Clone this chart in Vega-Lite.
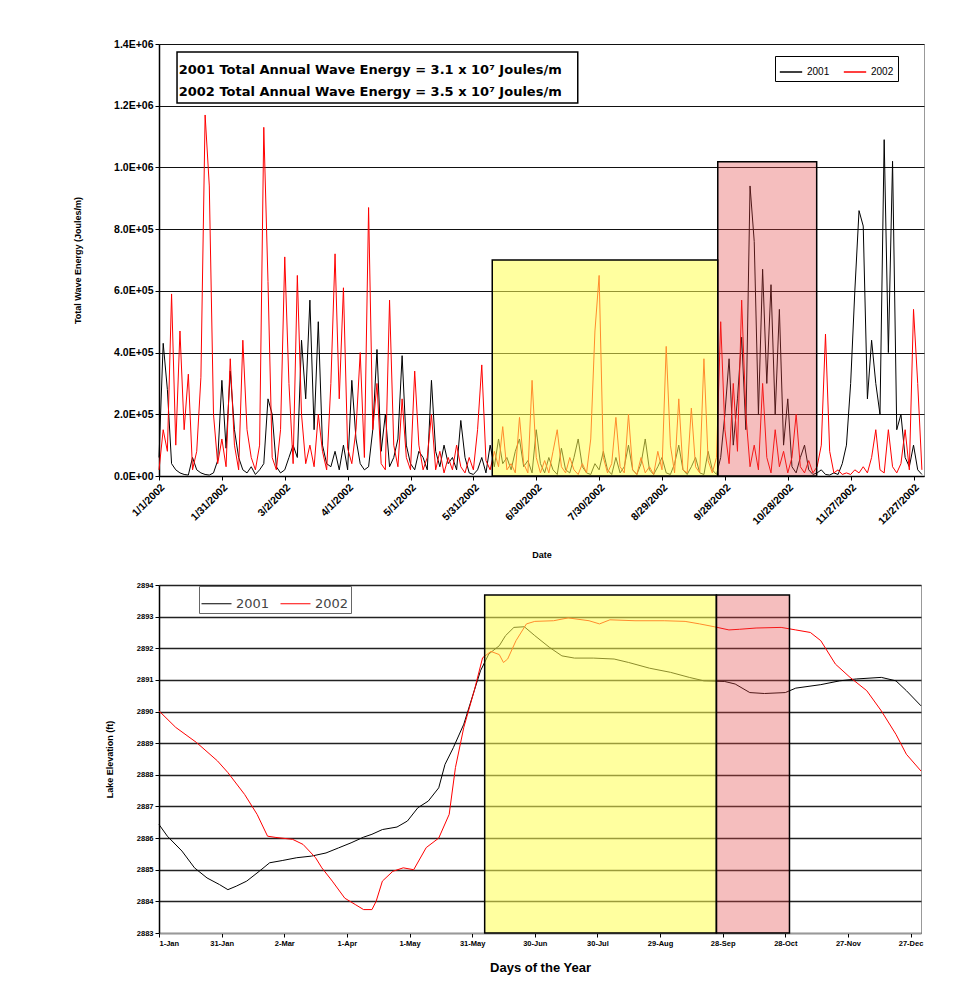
{
  "$schema": "https://vega.github.io/schema/vega-lite/v6.json",
  "background": "white",
  "padding": {"left": 73, "top": 38, "right": 10, "bottom": 0},
  "spacing": 19,
  "resolve": {"scale": {"color": "independent", "fill": "independent", "fillOpacity": "independent"}, "legend": {"color": "independent"}},
  "config": {
    "font": "Liberation Sans",
    "view": {"stroke": "#999999", "strokeWidth": 1},
    "axis": {"labelFont": "Liberation Sans", "titleFont": "Liberation Sans", "labelFontWeight": "bold", "titleFontWeight": "bold", "labelColor": "#000", "titleColor": "#000", "tickColor": "#000", "domainColor": "#000", "tickSize": 4, "labelOverlap": false},
    "legend": {"labelFont": "Liberation Sans"}
  },
  "datasets": {
    "wave": [
      {"t":0,"2001":60000,"2002":20000},{"t":2,"2001":430000,"2002":150000},{"t":4,"2001":280000,"2002":80000},{"t":6,"2001":40000,"2002":590000},
      {"t":8,"2001":20000,"2002":100000},{"t":10,"2001":10000,"2002":470000},{"t":12,"2001":5000,"2002":150000},{"t":14,"2001":3000,"2002":330000},
      {"t":16,"2001":60000,"2002":20000},{"t":18,"2001":20000,"2002":80000},{"t":20,"2001":10000,"2002":320000},{"t":22,"2001":5000,"2002":1170000},
      {"t":24,"2001":3000,"2002":940000},{"t":26,"2001":10000,"2002":200000},{"t":28,"2001":50000,"2002":40000},{"t":30,"2001":310000,"2002":120000},
      {"t":32,"2001":90000,"2002":30000},{"t":34,"2001":340000,"2002":380000},{"t":36,"2001":150000,"2002":100000},{"t":38,"2001":60000,"2002":20000},
      {"t":40,"2001":20000,"2002":440000},{"t":42,"2001":10000,"2002":150000},{"t":44,"2001":30000,"2002":60000},{"t":46,"2001":5000,"2002":20000},
      {"t":48,"2001":20000,"2002":100000},{"t":50,"2001":40000,"2002":1130000},{"t":52,"2001":250000,"2002":630000},{"t":54,"2001":200000,"2002":60000},
      {"t":56,"2001":30000,"2002":20000},{"t":58,"2001":10000,"2002":150000},{"t":60,"2001":20000,"2002":710000},{"t":62,"2001":60000,"2002":300000},
      {"t":64,"2001":100000,"2002":40000},{"t":66,"2001":60000,"2002":650000},{"t":68,"2001":440000,"2002":200000},{"t":70,"2001":250000,"2002":40000},
      {"t":72,"2001":570000,"2002":100000},{"t":74,"2001":150000,"2002":30000},{"t":76,"2001":500000,"2002":200000},{"t":78,"2001":100000,"2002":80000},
      {"t":80,"2001":40000,"2002":20000},{"t":82,"2001":30000,"2002":300000},{"t":84,"2001":80000,"2002":720000},{"t":86,"2001":20000,"2002":250000},
      {"t":88,"2001":100000,"2002":610000},{"t":90,"2001":20000,"2002":90000},{"t":92,"2001":310000,"2002":40000},{"t":94,"2001":120000,"2002":150000},
      {"t":96,"2001":40000,"2002":400000},{"t":98,"2001":20000,"2002":60000},{"t":100,"2001":30000,"2002":870000},{"t":102,"2001":150000,"2002":150000},
      {"t":104,"2001":410000,"2002":300000},{"t":106,"2001":80000,"2002":40000},{"t":108,"2001":200000,"2002":20000},{"t":110,"2001":30000,"2002":570000},
      {"t":112,"2001":60000,"2002":100000},{"t":114,"2001":120000,"2002":30000},{"t":116,"2001":390000,"2002":250000},{"t":118,"2001":100000,"2002":60000},
      {"t":120,"2001":40000,"2002":20000},{"t":122,"2001":20000,"2002":340000},{"t":124,"2001":80000,"2002":100000},{"t":126,"2001":60000,"2002":20000},
      {"t":128,"2001":20000,"2002":60000},{"t":130,"2001":310000,"2002":200000},{"t":132,"2001":80000,"2002":20000},{"t":134,"2001":30000,"2002":80000},
      {"t":136,"2001":100000,"2002":10000},{"t":138,"2001":40000,"2002":60000},{"t":140,"2001":60000,"2002":20000},{"t":142,"2001":20000,"2002":100000},
      {"t":144,"2001":180000,"2002":30000},{"t":146,"2001":60000,"2002":10000},{"t":148,"2001":10000,"2002":60000},{"t":150,"2001":5000,"2002":20000},
      {"t":152,"2001":20000,"2002":150000},{"t":154,"2001":60000,"2002":360000},{"t":156,"2001":10000,"2002":50000},{"t":158,"2001":100000,"2002":20000},
      {"t":160,"2001":30000,"2002":80000},{"t":162,"2001":120000,"2002":30000},{"t":164,"2001":40000,"2002":160000},{"t":166,"2001":60000,"2002":20000},
      {"t":168,"2001":20000,"2002":40000},{"t":170,"2001":80000,"2002":10000},{"t":172,"2001":120000,"2002":190000},{"t":174,"2001":30000,"2002":40000},
      {"t":176,"2001":50000,"2002":10000},{"t":178,"2001":10000,"2002":310000},{"t":180,"2001":150000,"2002":60000},{"t":182,"2001":40000,"2002":10000},
      {"t":184,"2001":10000,"2002":50000},{"t":186,"2001":60000,"2002":10000},{"t":188,"2001":20000,"2002":80000},{"t":190,"2001":5000,"2002":150000},
      {"t":192,"2001":90000,"2002":30000},{"t":194,"2001":20000,"2002":10000},{"t":196,"2001":10000,"2002":60000},{"t":198,"2001":60000,"2002":20000},
      {"t":200,"2001":120000,"2002":5000},{"t":202,"2001":30000,"2002":40000},{"t":204,"2001":10000,"2002":10000},{"t":206,"2001":5000,"2002":120000},
      {"t":208,"2001":40000,"2002":470000},{"t":210,"2001":20000,"2002":650000},{"t":212,"2001":80000,"2002":60000},{"t":214,"2001":20000,"2002":10000},
      {"t":216,"2001":5000,"2002":40000},{"t":218,"2001":60000,"2002":190000},{"t":220,"2001":10000,"2002":30000},{"t":222,"2001":30000,"2002":10000},
      {"t":224,"2001":100000,"2002":200000},{"t":226,"2001":20000,"2002":20000},{"t":228,"2001":5000,"2002":5000},{"t":230,"2001":40000,"2002":60000},
      {"t":232,"2001":120000,"2002":10000},{"t":234,"2001":20000,"2002":30000},{"t":236,"2001":5000,"2002":5000},{"t":238,"2001":30000,"2002":80000},
      {"t":240,"2001":60000,"2002":20000},{"t":242,"2001":10000,"2002":420000},{"t":244,"2001":5000,"2002":100000},{"t":246,"2001":40000,"2002":10000},
      {"t":248,"2001":100000,"2002":250000},{"t":250,"2001":20000,"2002":20000},{"t":252,"2001":5000,"2002":10000},{"t":254,"2001":30000,"2002":220000},
      {"t":256,"2001":60000,"2002":30000},{"t":258,"2001":10000,"2002":10000},{"t":260,"2001":5000,"2002":380000},{"t":262,"2001":80000,"2002":50000},
      {"t":264,"2001":20000,"2002":10000},{"t":266,"2001":5000,"2002":60000},{"t":268,"2001":60000,"2002":500000},{"t":270,"2001":200000,"2002":150000},
      {"t":272,"2001":380000,"2002":40000},{"t":274,"2001":100000,"2002":300000},{"t":276,"2001":250000,"2002":80000},{"t":278,"2001":450000,"2002":570000},
      {"t":280,"2001":150000,"2002":200000},{"t":282,"2001":940000,"2002":30000},{"t":284,"2001":760000,"2002":100000},{"t":286,"2001":200000,"2002":20000},
      {"t":288,"2001":670000,"2002":300000},{"t":290,"2001":300000,"2002":60000},{"t":292,"2001":620000,"2002":10000},{"t":294,"2001":200000,"2002":150000},
      {"t":296,"2001":540000,"2002":30000},{"t":298,"2001":100000,"2002":80000},{"t":300,"2001":250000,"2002":10000},{"t":302,"2001":30000,"2002":60000},
      {"t":304,"2001":10000,"2002":200000},{"t":306,"2001":60000,"2002":30000},{"t":308,"2001":100000,"2002":10000},{"t":310,"2001":20000,"2002":50000},
      {"t":312,"2001":5000,"2002":10000},{"t":314,"2001":10000,"2002":30000},{"t":316,"2001":20000,"2002":100000},{"t":318,"2001":5000,"2002":460000},
      {"t":320,"2001":3000,"2002":80000},{"t":322,"2001":10000,"2002":10000},{"t":324,"2001":5000,"2002":20000},{"t":326,"2001":40000,"2002":5000},
      {"t":328,"2001":100000,"2002":10000},{"t":330,"2001":300000,"2002":5000},{"t":332,"2001":600000,"2002":20000},{"t":334,"2001":860000,"2002":10000},
      {"t":336,"2001":810000,"2002":30000},{"t":338,"2001":250000,"2002":10000},{"t":340,"2001":440000,"2002":60000},{"t":342,"2001":300000,"2002":150000},
      {"t":344,"2001":200000,"2002":20000},{"t":346,"2001":1090000,"2002":10000},{"t":348,"2001":400000,"2002":150000},{"t":350,"2001":1020000,"2002":30000},
      {"t":352,"2001":150000,"2002":10000},{"t":354,"2001":200000,"2002":40000},{"t":356,"2001":60000,"2002":150000},{"t":358,"2001":30000,"2002":20000},
      {"t":360,"2001":100000,"2002":540000},{"t":362,"2001":20000,"2002":300000},{"t":364,"2001":5000,"2002":20000}
    ],
    "lake": [
      {"t":0,"s":"2001","v":2886.43},{"t":4,"s":"2001","v":2886.06},{"t":11,"s":"2001","v":2885.59},{"t":17,"s":"2001","v":2885.06},
      {"t":23,"s":"2001","v":2884.74},{"t":29,"s":"2001","v":2884.53},{"t":33,"s":"2001","v":2884.37},{"t":37,"s":"2001","v":2884.48},
      {"t":42,"s":"2001","v":2884.64},{"t":48,"s":"2001","v":2884.95},{"t":53,"s":"2001","v":2885.22},{"t":59,"s":"2001","v":2885.29},
      {"t":66,"s":"2001","v":2885.38},{"t":73,"s":"2001","v":2885.43},{"t":80,"s":"2001","v":2885.53},{"t":86,"s":"2001","v":2885.69},
      {"t":92,"s":"2001","v":2885.85},{"t":98,"s":"2001","v":2886.03},{"t":102,"s":"2001","v":2886.12},{"t":107,"s":"2001","v":2886.27},
      {"t":114,"s":"2001","v":2886.35},{"t":119,"s":"2001","v":2886.54},{"t":124,"s":"2001","v":2886.96},{"t":129,"s":"2001","v":2887.17},
      {"t":134,"s":"2001","v":2887.59},{"t":137,"s":"2001","v":2888.33},{"t":141,"s":"2001","v":2888.86},{"t":146,"s":"2001","v":2889.6},
      {"t":151,"s":"2001","v":2890.66},{"t":154,"s":"2001","v":2891.29},{"t":158,"s":"2001","v":2891.82},{"t":163,"s":"2001","v":2892.08},
      {"t":166,"s":"2001","v":2892.4},{"t":170,"s":"2001","v":2892.66},{"t":175,"s":"2001","v":2892.68},{"t":180,"s":"2001","v":2892.4},
      {"t":187,"s":"2001","v":2892.03},{"t":193,"s":"2001","v":2891.76},{"t":199,"s":"2001","v":2891.69},{"t":208,"s":"2001","v":2891.69},
      {"t":218,"s":"2001","v":2891.66},{"t":225,"s":"2001","v":2891.55},{"t":235,"s":"2001","v":2891.37},{"t":245,"s":"2001","v":2891.24},
      {"t":254,"s":"2001","v":2891.08},{"t":261,"s":"2001","v":2890.97},{"t":271,"s":"2001","v":2890.95},{"t":276,"s":"2001","v":2890.87},
      {"t":283,"s":"2001","v":2890.6},{"t":290,"s":"2001","v":2890.57},{"t":300,"s":"2001","v":2890.6},{"t":305,"s":"2001","v":2890.74},
      {"t":317,"s":"2001","v":2890.85},{"t":326,"s":"2001","v":2890.97},{"t":334,"s":"2001","v":2891.03},{"t":346,"s":"2001","v":2891.08},
      {"t":353,"s":"2001","v":2890.97},{"t":358,"s":"2001","v":2890.66},{"t":365,"s":"2001","v":2890.18},
      {"t":0,"s":"2002","v":2890.02},{"t":8,"s":"2002","v":2889.5},{"t":18,"s":"2002","v":2889.02},{"t":28,"s":"2002","v":2888.44},
      {"t":33,"s":"2002","v":2888.07},{"t":41,"s":"2002","v":2887.38},{"t":47,"s":"2002","v":2886.75},{"t":52,"s":"2002","v":2886.06},
      {"t":56,"s":"2002","v":2886.02},{"t":64,"s":"2002","v":2885.96},{"t":69,"s":"2002","v":2885.8},{"t":75,"s":"2002","v":2885.38},
      {"t":78,"s":"2002","v":2885.06},{"t":83,"s":"2002","v":2884.64},{"t":89,"s":"2002","v":2884.1},{"t":94,"s":"2002","v":2883.9},
      {"t":98,"s":"2002","v":2883.74},{"t":102,"s":"2002","v":2883.74},{"t":104,"s":"2002","v":2884.0},{"t":107,"s":"2002","v":2884.64},
      {"t":112,"s":"2002","v":2884.95},{"t":117,"s":"2002","v":2885.06},{"t":122,"s":"2002","v":2885.0},{"t":128,"s":"2002","v":2885.7},
      {"t":134,"s":"2002","v":2886.0},{"t":139,"s":"2002","v":2886.75},{"t":142,"s":"2002","v":2888.23},{"t":146,"s":"2002","v":2889.5},
      {"t":151,"s":"2002","v":2890.66},{"t":155,"s":"2002","v":2891.7},{"t":159,"s":"2002","v":2891.9},{"t":163,"s":"2002","v":2891.8},
      {"t":165,"s":"2002","v":2891.55},{"t":167,"s":"2002","v":2891.66},{"t":171,"s":"2002","v":2892.24},{"t":176,"s":"2002","v":2892.77},
      {"t":180,"s":"2002","v":2892.85},{"t":189,"s":"2002","v":2892.87},{"t":196,"s":"2002","v":2892.96},{"t":206,"s":"2002","v":2892.87},
      {"t":211,"s":"2002","v":2892.77},{"t":216,"s":"2002","v":2892.9},{"t":228,"s":"2002","v":2892.87},{"t":242,"s":"2002","v":2892.87},
      {"t":252,"s":"2002","v":2892.85},{"t":259,"s":"2002","v":2892.77},{"t":266,"s":"2002","v":2892.68},{"t":273,"s":"2002","v":2892.58},
      {"t":278,"s":"2002","v":2892.6},{"t":286,"s":"2002","v":2892.64},{"t":298,"s":"2002","v":2892.66},{"t":305,"s":"2002","v":2892.58},
      {"t":312,"s":"2002","v":2892.5},{"t":317,"s":"2002","v":2892.24},{"t":324,"s":"2002","v":2891.5},{"t":331,"s":"2002","v":2891.08},
      {"t":339,"s":"2002","v":2890.66},{"t":346,"s":"2002","v":2890.02},{"t":353,"s":"2002","v":2889.28},{"t":358,"s":"2002","v":2888.65},
      {"t":365,"s":"2002","v":2888.12}
    ]
  },
  "vconcat": [
    {
      "width": 765,
      "height": 432,
      "layer": [
        {
          "data": {"name": "wave"},
          "transform": [{"fold": ["2001", "2002"], "as": ["s", "v"]}],
          "mark": {"type": "line", "strokeWidth": 1, "interpolate": "linear"},
          "encoding": {
            "x": {"field": "t", "type": "quantitative", "scale": {"domain": [0, 365], "nice": false, "zero": false},
              "axis": {"title": "Date", "titleFontSize": 9, "titlePadding": 24, "values": [0,30,60,90,120,150,180,210,240,270,300,330,360], "tickCount": 13,
                "labelExpr": "timeFormat(datetime(2002,0,1+datum.value),'%-m/%-d/%Y')", "labelAngle": -45, "labelFontSize": 10.5, "grid": false, "domainWidth": 1.5}},
            "y": {"field": "v", "type": "quantitative", "scale": {"domain": [0, 1400000], "nice": false},
              "axis": {"title": "Total Wave Energy (Joules/m)", "titleFontSize": 9, "titlePadding": 31, "values": [0,200000,400000,600000,800000,1000000,1200000,1400000], "tickCount": 8,
                "labelExpr": "replace(format(datum.value,'.1e'),'e+','E+0')", "labelFontSize": 10.5, "gridColor": "#111", "gridWidth": 1.2, "domainWidth": 1.5}},
            "color": {"field": "s", "type": "nominal", "scale": {"domain": ["2001", "2002"], "range": ["#000000", "#FF0000"]},
              "legend": {"title": null, "orient": "none", "legendX": 616, "legendY": 12, "direction": "horizontal", "strokeColor": "#000", "fillColor": "white", "padding": 4,
                "symbolType": "stroke", "symbolSize": 500, "symbolStrokeWidth": 1.5, "labelFontSize": 10, "columnPadding": 10, "labelColor": "#000"}}
          }
        },
        {
          "data": {"values": [{"a": 159, "b": 266.6, "lo": 0, "hi": 700000, "c": "y"}, {"a": 266.6, "b": 313.8, "lo": 0, "hi": 1018000, "c": "p"}]},
          "mark": {"type": "rect", "stroke": "#000", "strokeWidth": 1.5},
          "encoding": {
            "x": {"field": "a", "type": "quantitative"}, "x2": {"field": "b"},
            "y": {"field": "lo", "type": "quantitative"}, "y2": {"field": "hi"},
            "fill": {"field": "c", "type": "nominal", "scale": {"domain": ["y", "p"], "range": ["#FFFF50", "#E24545"]}, "legend": null},
            "fillOpacity": {"field": "c", "type": "nominal", "scale": {"domain": ["y", "p"], "range": [0.55, 0.35]}, "legend": null}
          }
        },
        {
          "data": {"values": [{"a": 8.6, "b": 199.8, "lo": 1209000, "hi": 1374000}]},
          "mark": {"type": "rect", "fill": "white", "stroke": "#000", "strokeWidth": 1.5},
          "encoding": {"x": {"field": "a", "type": "quantitative"}, "x2": {"field": "b"}, "y": {"field": "lo", "type": "quantitative"}, "y2": {"field": "hi"}}
        },
        {
          "data": {"values": [{"a": 9.4, "v": 1316000, "txt": "2001 Total Annual Wave Energy = 3.1 x 10⁷ Joules/m"}, {"a": 9.4, "v": 1245000, "txt": "2002 Total Annual Wave Energy = 3.5 x 10⁷ Joules/m"}]},
          "mark": {"type": "text", "align": "left", "baseline": "middle", "fontSize": 13, "fontWeight": "bold", "font": "DejaVu Sans", "color": "#000"},
          "encoding": {"x": {"field": "a", "type": "quantitative"}, "y": {"field": "v", "type": "quantitative"}, "text": {"field": "txt"}}
        }
      ]
    },
    {
      "width": 762,
      "height": 348,
      "layer": [
        {
          "data": {"name": "lake"},
          "mark": {"type": "line", "strokeWidth": 1},
          "encoding": {
            "x": {"field": "t", "type": "quantitative", "scale": {"domain": [0, 365], "nice": false, "zero": false},
              "axis": {"title": "Days of the Year", "titleFontSize": 13, "titlePadding": 15, "values": [0,30,60,90,120,150,180,210,240,270,300,330,360], "tickCount": 13,
                "labelExpr": "timeFormat(datetime(2002,0,1+datum.value),'%-d-%b')", "labelFontSize": 7.5, "labelAngle": 0, "grid": false, "domainColor": "#999"}},
            "y": {"field": "v", "type": "quantitative", "scale": {"domain": [2883, 2894], "nice": false, "zero": false},
              "axis": {"title": "Lake Elevation (ft)", "titleFontSize": 9, "titlePadding": 22, "values": [2883,2884,2885,2886,2887,2888,2889,2890,2891,2892,2893,2894], "tickCount": 12,
                "format": "d", "labelFontSize": 7.5, "gridColor": "#222", "gridWidth": 1.6, "domainWidth": 1.5}},
            "color": {"field": "s", "type": "nominal", "scale": {"domain": ["2001", "2002"], "range": ["#000000", "#FF0000"]},
              "legend": {"title": null, "orient": "none", "legendX": 40, "legendY": 1, "direction": "horizontal", "strokeColor": "#666", "fillColor": "white", "padding": 2,
                "symbolType": "stroke", "symbolSize": 900, "symbolStrokeWidth": 1, "labelFontSize": 13, "columnPadding": 8, "labelColor": "#444", "labelFont": "DejaVu Sans"}}
          }
        },
        {
          "data": {"values": [{"a": 156, "b": 267, "lo": 2883, "hi": 2893.68, "c": "y"}, {"a": 267, "b": 302, "lo": 2883, "hi": 2893.68, "c": "p"}]},
          "mark": {"type": "rect", "stroke": "#000", "strokeWidth": 1.5},
          "encoding": {
            "x": {"field": "a", "type": "quantitative"}, "x2": {"field": "b"},
            "y": {"field": "lo", "type": "quantitative"}, "y2": {"field": "hi"},
            "fill": {"field": "c", "type": "nominal", "scale": {"domain": ["y", "p"], "range": ["#FFFF50", "#E24545"]}, "legend": null},
            "fillOpacity": {"field": "c", "type": "nominal", "scale": {"domain": ["y", "p"], "range": [0.55, 0.35]}, "legend": null}
          }
        }
      ]
    }
  ]
}
